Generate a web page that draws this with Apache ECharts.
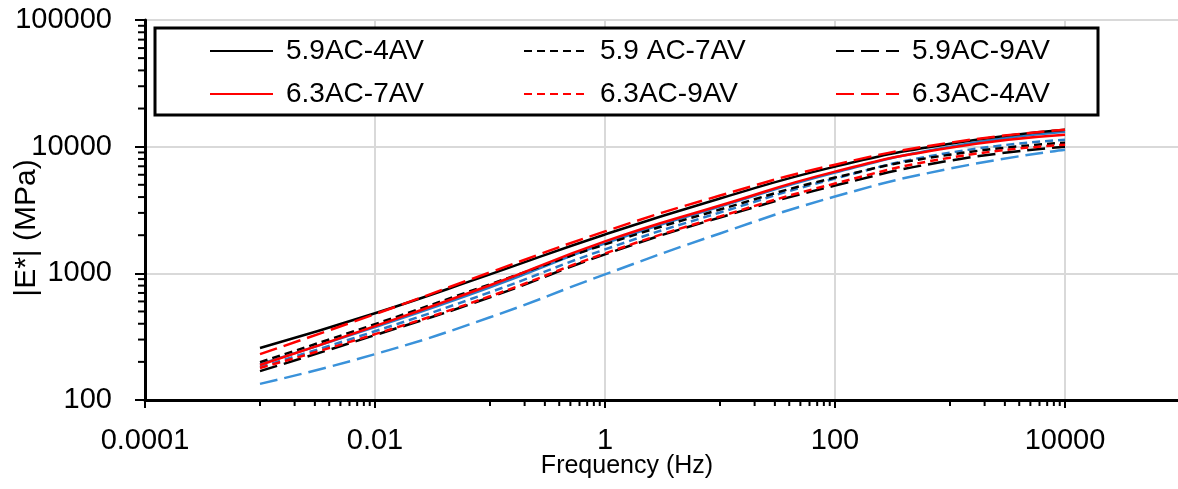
<!DOCTYPE html>
<html>
<head>
<meta charset="utf-8">
<script src="https://cdn.jsdelivr.net/npm/echarts@6/dist/echarts.min.js"></script>
<style>html,body{margin:0;padding:0;background:#fff}#c{width:1178px;height:489px}</style>
</head>
<body>
<div id="c"></div>
<script>
// Frequencies (Hz)
const freq = [0.001, 0.01, 0.1, 1, 10, 100, 1000, 10000];
// |E*| (MPa) per mix
const s59_4 = [257, 484, 982, 2028, 3896, 6960, 10560, 13610];
const s59_7 = [199, 397, 819, 1691, 3191, 5700, 8650, 10750];
const s59_9 = [169, 325, 647, 1411, 2760, 4930, 7762, 10000];
const s63_7 = [189, 383, 805, 1786, 3430, 6356, 9820, 12420];
const s63_9 = [179, 331, 659, 1436, 2810, 5117, 8190, 10370];
const s63_4 = [230, 476, 1018, 2142, 4111, 7210, 10750, 13610];
const blueSolid = [192, 376, 776, 1723, 3371, 6240, 10000, 13120];
const blueShort = [182, 349, 709, 1545, 3020, 5598, 8970, 11350];
const blueLong = [134, 230, 450, 982, 2065, 4037, 6710, 9470];

const xTickLabels = {'-4':'0.0001','-2':'0.01','0':'1','2':'100','4':'10000','6':'1000000'};
const yTickLabels = {'2':'100','3':'1000','4':'10000','5':'100000'};
const xMinorTicks = [0.001,0.002,0.003,0.004,0.005,0.006,0.007,0.008,0.009,
  0.1,0.2,0.3,0.4,0.5,0.6,0.7,0.8,0.9,
  10,20,30,40,50,60,70,80,90,
  1000,2000,3000,4000,5000,6000,7000,8000,9000,
  100000,200000,300000,400000,500000,600000,700000,800000,900000];
const yMinorTicks = [200,300,400,500,600,700,800,900,
  2000,3000,4000,5000,6000,7000,8000,9000,
  20000,30000,40000,50000,60000,70000,80000,90000];

const FONT = 'Liberation Sans';
const SHORT = [8,5], LONG = [18,7];
function pair(vals){ return freq.map((f,i)=>[f, vals[i]]); }
function line(name, vals, color, type){
  return {name, type:'line', data:pair(vals), symbol:'none', smooth:0.5,
    lineStyle:{color, width:2.5, type}, itemStyle:{color}, z:3};
}

const chart = echarts.init(document.getElementById('c'), null, {renderer:'canvas'});
const legendBase = {orient:'vertical', itemWidth:63, itemHeight:14, itemGap:13, top:36, padding:0,
  itemStyle:{opacity:0},
  textStyle:{fontFamily:FONT, fontSize:28, color:'#000', lineHeight:30, padding:[0,0,0,8]},
  z:6, selectedMode:false};
chart.setOption({
  animation:false,
  backgroundColor:'#fff',
  grid:{left:145, top:20, width:1150, height:380, outerBoundsMode:'none', containLabel:false,
    show:true, borderColor:'#595959', borderWidth:1.5, backgroundColor:'transparent'},
  xAxis:{type:'log', logBase:10, min:0.0001, max:1000000, interval:2,
    axisLine:{lineStyle:{color:'#000', width:3}},
    axisTick:{length:8, lineStyle:{color:'#000', width:2}},
    axisLabel:{fontFamily:FONT, fontSize:29, color:'#000', margin:26,
      formatter:v=>xTickLabels[String(Math.round(Math.log10(v)))] || ''},
    splitLine:{show:true, lineStyle:{color:'#d9d9d9', width:2}}
  },
  yAxis:{type:'log', logBase:10, min:100, max:100000, interval:1,
    axisLine:{lineStyle:{color:'#000', width:3}},
    axisTick:{length:10, lineStyle:{color:'#000', width:2}},
    axisLabel:{fontFamily:FONT, fontSize:29, color:'#000', margin:33,
      formatter:v=>yTickLabels[String(Math.round(Math.log10(v)))] || ''},
    splitLine:{show:true, lineStyle:{color:'#d9d9d9', width:2}}
  },
  legend:[
    Object.assign({}, legendBase, {left:209, data:['5.9AC-4AV','6.3AC-7AV']}),
    Object.assign({}, legendBase, {left:523, data:['5.9 AC-7AV','6.3AC-9AV']}),
    Object.assign({}, legendBase, {left:835, data:['5.9AC-9AV','6.3AC-4AV']})
  ],
  graphic:[
    {type:'rect', shape:{x:155, y:28, width:943, height:87}, style:{fill:'#fff', stroke:'#000', lineWidth:3}, z:5},
    {type:'text', x:627, y:466, style:{text:'Frequency (Hz)', font:'25px "'+FONT+'"', fill:'#000', align:'center', verticalAlign:'middle'}, z:6},
    {type:'text', x:27, y:228, rotation:Math.PI/2, style:{text:'|E*| (MPa)', font:'30px "'+FONT+'"', fill:'#000', align:'center', verticalAlign:'middle'}, z:6}
  ],
  series:[
    line('Blue solid', blueSolid, '#2a7bc6', 'solid'),
    line('Blue short', blueShort, '#2a7bc6', SHORT),
    line('Blue long', blueLong, '#3a92da', LONG),
    line('5.9AC-4AV', s59_4, '#000', 'solid'),
    line('5.9 AC-7AV', s59_7, '#000', SHORT),
    line('5.9AC-9AV', s59_9, '#000', LONG),
    line('6.3AC-7AV', s63_7, '#ff0000', 'solid'),
    line('6.3AC-9AV', s63_9, '#ff0000', SHORT),
    line('6.3AC-4AV', s63_4, '#ff0000', LONG),
    {type:'custom', silent:true, clip:false, z:4, data:xMinorTicks.map(v=>[v,100]),
      renderItem:(p,api)=>{const c=api.coord([api.value(0), api.value(1)]);
        return {type:'line', shape:{x1:c[0], y1:c[1], x2:c[0], y2:c[1]+6}, style:{stroke:'#000', lineWidth:2}};}},
    {type:'custom', silent:true, clip:false, z:4, data:yMinorTicks.map(v=>[0.0001,v]),
      renderItem:(p,api)=>{const c=api.coord([api.value(0), api.value(1)]);
        return {type:'line', shape:{x1:c[0]-7, y1:c[1], x2:c[0], y2:c[1]}, style:{stroke:'#000', lineWidth:2}};}}
  ]
});
</script>
</body>
</html>
